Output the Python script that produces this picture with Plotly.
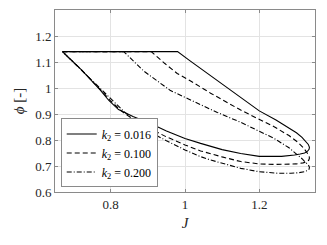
import plotly.graph_objects as go

# k2 = 0.016 (solid)
J_a = [0.670, 0.980, 1.010, 1.042, 1.100, 1.150, 1.200, 1.245, 1.280, 1.300, 1.315, 1.326,
       1.332, 1.335, 1.334, 1.330, 1.322, 1.310, 1.295, 1.260, 1.230, 1.200, 1.150, 1.100,
       1.042, 1.000, 0.950, 0.907, 0.860, 0.821, 0.795, 0.772, 0.722, 0.670]
phi_a = [1.140, 1.140, 1.108, 1.075, 1.015, 0.962, 0.912, 0.877, 0.847, 0.828, 0.810, 0.795,
         0.783, 0.772, 0.764, 0.757, 0.750, 0.746, 0.742, 0.737, 0.736, 0.737, 0.748, 0.763,
         0.787, 0.806, 0.835, 0.863, 0.890, 0.917, 0.952, 0.992, 1.069, 1.140]

# k2 = 0.100 (dashed)
J_b = [0.670, 0.909, 0.945, 0.979, 1.014, 1.042, 1.069, 1.150, 1.195, 1.240, 1.280, 1.305,
       1.320, 1.330, 1.334, 1.335, 1.333, 1.327, 1.318, 1.300, 1.270, 1.240, 1.200, 1.150,
       1.100, 1.069, 1.042, 1.000, 0.950, 0.907, 0.860, 0.830, 0.800, 0.778, 0.722, 0.670]
phi_b = [1.140, 1.140, 1.095, 1.056, 1.028, 1.003, 0.980, 0.915, 0.882, 0.851, 0.817, 0.790,
         0.768, 0.750, 0.740, 0.730, 0.722, 0.716, 0.712, 0.708, 0.706, 0.706, 0.708, 0.717,
         0.735, 0.747, 0.758, 0.781, 0.812, 0.843, 0.880, 0.910, 0.950, 0.985, 1.069, 1.140]

# k2 = 0.200 (dash-dot)
J_c = [0.670, 0.835, 0.889, 0.925, 0.961, 1.000, 1.042, 1.087, 1.150, 1.177, 1.240, 1.280,
       1.300, 1.315, 1.326, 1.333, 1.335, 1.334, 1.330, 1.321, 1.305, 1.285, 1.250, 1.200,
       1.150, 1.100, 1.069, 1.042, 1.000, 0.950, 0.907, 0.870, 0.839, 0.810, 0.785, 0.722,
       0.670]
phi_c = [1.140, 1.140, 1.065, 1.027, 0.990, 0.964, 0.935, 0.906, 0.868, 0.850, 0.806, 0.770,
         0.748, 0.728, 0.712, 0.702, 0.695, 0.688, 0.683, 0.678, 0.674, 0.672, 0.672, 0.678,
         0.691, 0.710, 0.723, 0.736, 0.762, 0.797, 0.830, 0.868, 0.905, 0.945, 0.980, 1.069,
         1.140]

series_names = ["<i>k</i><sub>2</sub> = 0.016", "<i>k</i><sub>2</sub> = 0.100",
                "<i>k</i><sub>2</sub> = 0.200"]
x_tick_vals = [0.8, 1.0, 1.2]
x_tick_text = ["0.8", "1", "1.2"]
y_tick_vals = [0.6, 0.7, 0.8, 0.9, 1.0, 1.1, 1.2]
y_tick_text = ["0.6", "0.7", "0.8", "0.9", "1", "1.1", "1.2"]

FONT = "Liberation Serif, DejaVu Serif, serif"
dashes = ["solid", "5px,3px", "5px,2px,1px,2px"]

fig = go.Figure()
for xs, ys, name, d in zip([J_a, J_b, J_c], [phi_a, phi_b, phi_c], series_names, dashes):
    fig.add_trace(go.Scatter(x=xs, y=ys, mode="lines", name=name,
                             line=dict(color="black", width=1.1, dash=d)))

axis_common = dict(showgrid=True, gridcolor="#e3e3e3", gridwidth=1,
                   showline=True, linecolor="#8a8a8a", linewidth=1, mirror="ticks",
                   ticks="inside", ticklen=3, tickcolor="#8a8a8a", zeroline=False,
                   tickfont=dict(family=FONT, size=13, color="#262626"))

fig.update_xaxes(range=[0.65, 1.35], tickvals=x_tick_vals, ticktext=x_tick_text,
                 title=dict(text="<i>J</i>", font=dict(family=FONT, size=15, color="#262626"),
                            standoff=6),
                 **axis_common)
fig.update_yaxes(range=[0.6, 1.3], tickvals=y_tick_vals, ticktext=y_tick_text,
                 title=dict(text="<i>ϕ</i> [-]", font=dict(family=FONT, size=15, color="#262626"),
                            standoff=6),
                 **axis_common)

# page has an 8px body margin, so the figure is sized/margined to compensate
fig.update_layout(
    width=319, height=237,
    margin=dict(l=47, r=12, t=2, b=53),
    paper_bgcolor="white", plot_bgcolor="white",
    font=dict(family=FONT, size=13, color="#262626"),
    legend=dict(x=0.022, y=0.025, xanchor="left", yanchor="bottom",
                bgcolor="white", bordercolor="#8a8a8a", borderwidth=1,
                font=dict(family=FONT, size=12, color="black"),
                itemwidth=30, tracegroupgap=0),
    showlegend=True,
)

fig.write_html("out.html")
